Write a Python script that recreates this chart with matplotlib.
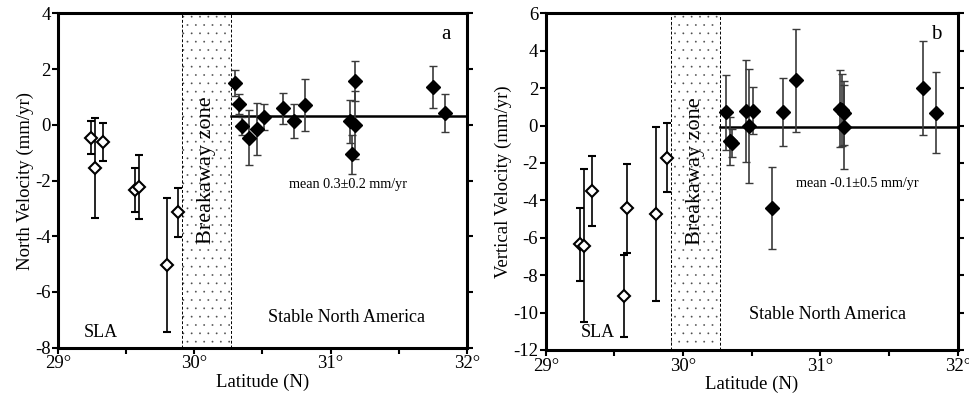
import matplotlib
matplotlib.use("Agg")
import matplotlib.pyplot as plt

plt.rcParams['font.family'] = ['Liberation Serif', 'DejaVu Serif']
plt.rcParams['axes.unicode_minus'] = False
plt.rcParams['hatch.linewidth'] = 0.1
plt.rcParams['hatch.color'] = '0.3'

# SLA (open) sites, north component
sla_lat_n = [29.24, 29.27, 29.33, 29.56, 29.59, 29.80, 29.88]
sla_vn = [-0.46, -1.55, -0.63, -2.34, -2.24, -5.02, -3.14]
sla_en = [0.60, 1.80, 0.68, 0.80, 1.14, 2.40, 0.88]

# stable North America (filled) sites, north component
sna_lat_n = [30.30, 30.33, 30.35, 30.40, 30.46, 30.51, 30.65, 30.73, 30.81,
             31.14, 31.18, 31.18, 31.16, 31.75, 31.84]
sna_vn = [1.49, 0.75, -0.04, -0.46, -0.15, 0.28, 0.59, 0.14, 0.71,
          0.12, 1.58, -0.01, -1.06, 1.36, 0.41]
sna_en = [0.47, 0.37, 0.33, 1.00, 0.94, 0.48, 0.55, 0.60, 0.95,
          0.78, 0.71, 1.23, 0.70, 0.76, 0.68]

# SLA (open) sites, vertical component
sla_lat_v = [29.25, 29.28, 29.34, 29.57, 29.59, 29.80, 29.88]
sla_vv = [-6.34, -6.43, -3.52, -9.12, -4.43, -4.73, -1.72]
sla_ev = [1.95, 4.08, 1.87, 2.18, 2.37, 4.67, 1.85]

# stable North America (filled) sites, vertical component
sna_lat_v = [30.31, 30.34, 30.36, 30.46, 30.48, 30.51, 30.65, 30.73, 30.82,
             31.14, 31.16, 31.17, 31.17, 31.75, 31.84]
sna_vv = [0.71, -0.81, -0.92, 0.79, -0.03, 0.79, -4.43, 0.71, 2.42,
          0.90, 0.83, 0.68, -0.10, 1.99, 0.68]
sna_ev = [2.00, 1.28, 0.75, 2.73, 3.03, 1.27, 2.19, 1.81, 2.75,
          2.07, 1.90, 1.70, 2.25, 2.52, 2.17]

zone = [29.91, 30.27]
mean_n = 0.33
mean_v = -0.07

fig = plt.figure(figsize=(9.70, 4.01), dpi=100)
ax1 = fig.add_axes([0.0601, 0.1329, 0.4210, 0.8339])
ax2 = fig.add_axes([0.5626, 0.1272, 0.4247, 0.8397])


def draw_panel(ax, lat_o, v_o, e_o, lat_f, v_f, e_f, mean, ylim, yticks,
               ylabel, letter, mean_txt, mean_pos, sla_pos, sna_pos):
    ax.fill_betweenx(ylim, zone[0], zone[1], facecolor='white', hatch='..',
                     edgecolor='0.3', linewidth=0)
    for z in zone:
        ax.axvline(z, color='black', linestyle='--', linewidth=0.7, dashes=(3, 2))
    ax.plot([zone[1], 32], [mean, mean], color='black', linewidth=1.8, zorder=3)
    ax.errorbar(lat_o, v_o, yerr=e_o, fmt='D', mfc='white', mec='black', mew=1.5,
                ms=6.5, ecolor='black', elinewidth=1.2, capsize=3, capthick=1.2, zorder=4)
    ax.errorbar(lat_f, v_f, yerr=e_f, fmt='D', mfc='black', mec='black', mew=1,
                ms=7, ecolor='#3a3a3a', elinewidth=1.2, capsize=3, capthick=1.2, zorder=4)
    ax.set_xlim(29, 32)
    ax.set_ylim(*ylim)
    ax.set_xticks([29, 29.5, 30, 30.5, 31, 31.5, 32])
    ax.set_xticklabels(['29°', '', '30°', '', '31°', '', '32°'], fontsize=13.5)
    ax.set_yticks(yticks)
    ax.set_yticklabels([str(t) for t in yticks], fontsize=13.5)
    ax.tick_params(axis='both', direction='out', length=4, width=1.5,
                   right=True, top=False, pad=1.5)
    for s in ax.spines.values():
        s.set_linewidth(2.2)
    ax.set_xlabel('Latitude (N)', fontsize=13.5, labelpad=1)
    ax.set_ylabel(ylabel, fontsize=13.5, labelpad=1)
    ax.text(31.88, ylim[1] - 0.035 * (ylim[1] - ylim[0]), letter, fontsize=15,
            ha='right', va='top')
    ax.text(sla_pos[0], sla_pos[1], 'SLA', fontsize=13, ha='center', va='center')
    ax.text(sna_pos[0], sna_pos[1], 'Stable North America', fontsize=13,
            ha='center', va='center')
    ax.text(mean_pos[0], mean_pos[1], mean_txt, fontsize=10.2, ha='center', va='center')
    ax.text(sum(zone) / 2, (ylim[0] + ylim[1]) / 2 + 0.03 * (ylim[1] - ylim[0]),
            'Breakaway zone', fontsize=16, rotation=90, ha='center', va='center')


draw_panel(ax1, sla_lat_n, sla_vn, sla_en, sna_lat_n, sna_vn, sna_en, mean_n,
           (-8, 4), list(range(-8, 5, 2)), 'North Velocity (mm/yr)', 'a',
           'mean 0.3±0.2 mm/yr', (31.13, -2.15), (29.31, -7.45), (31.12, -6.9))
draw_panel(ax2, sla_lat_v, sla_vv, sla_ev, sna_lat_v, sna_vv, sna_ev, mean_v,
           (-12, 6), list(range(-12, 7, 2)), 'Vertical Velocity (mm/yr)', 'b',
           'mean -0.1±0.5 mm/yr', (31.27, -3.1), (29.38, -11.05), (31.05, -10.1))

fig.savefig('out.png', dpi=100)
